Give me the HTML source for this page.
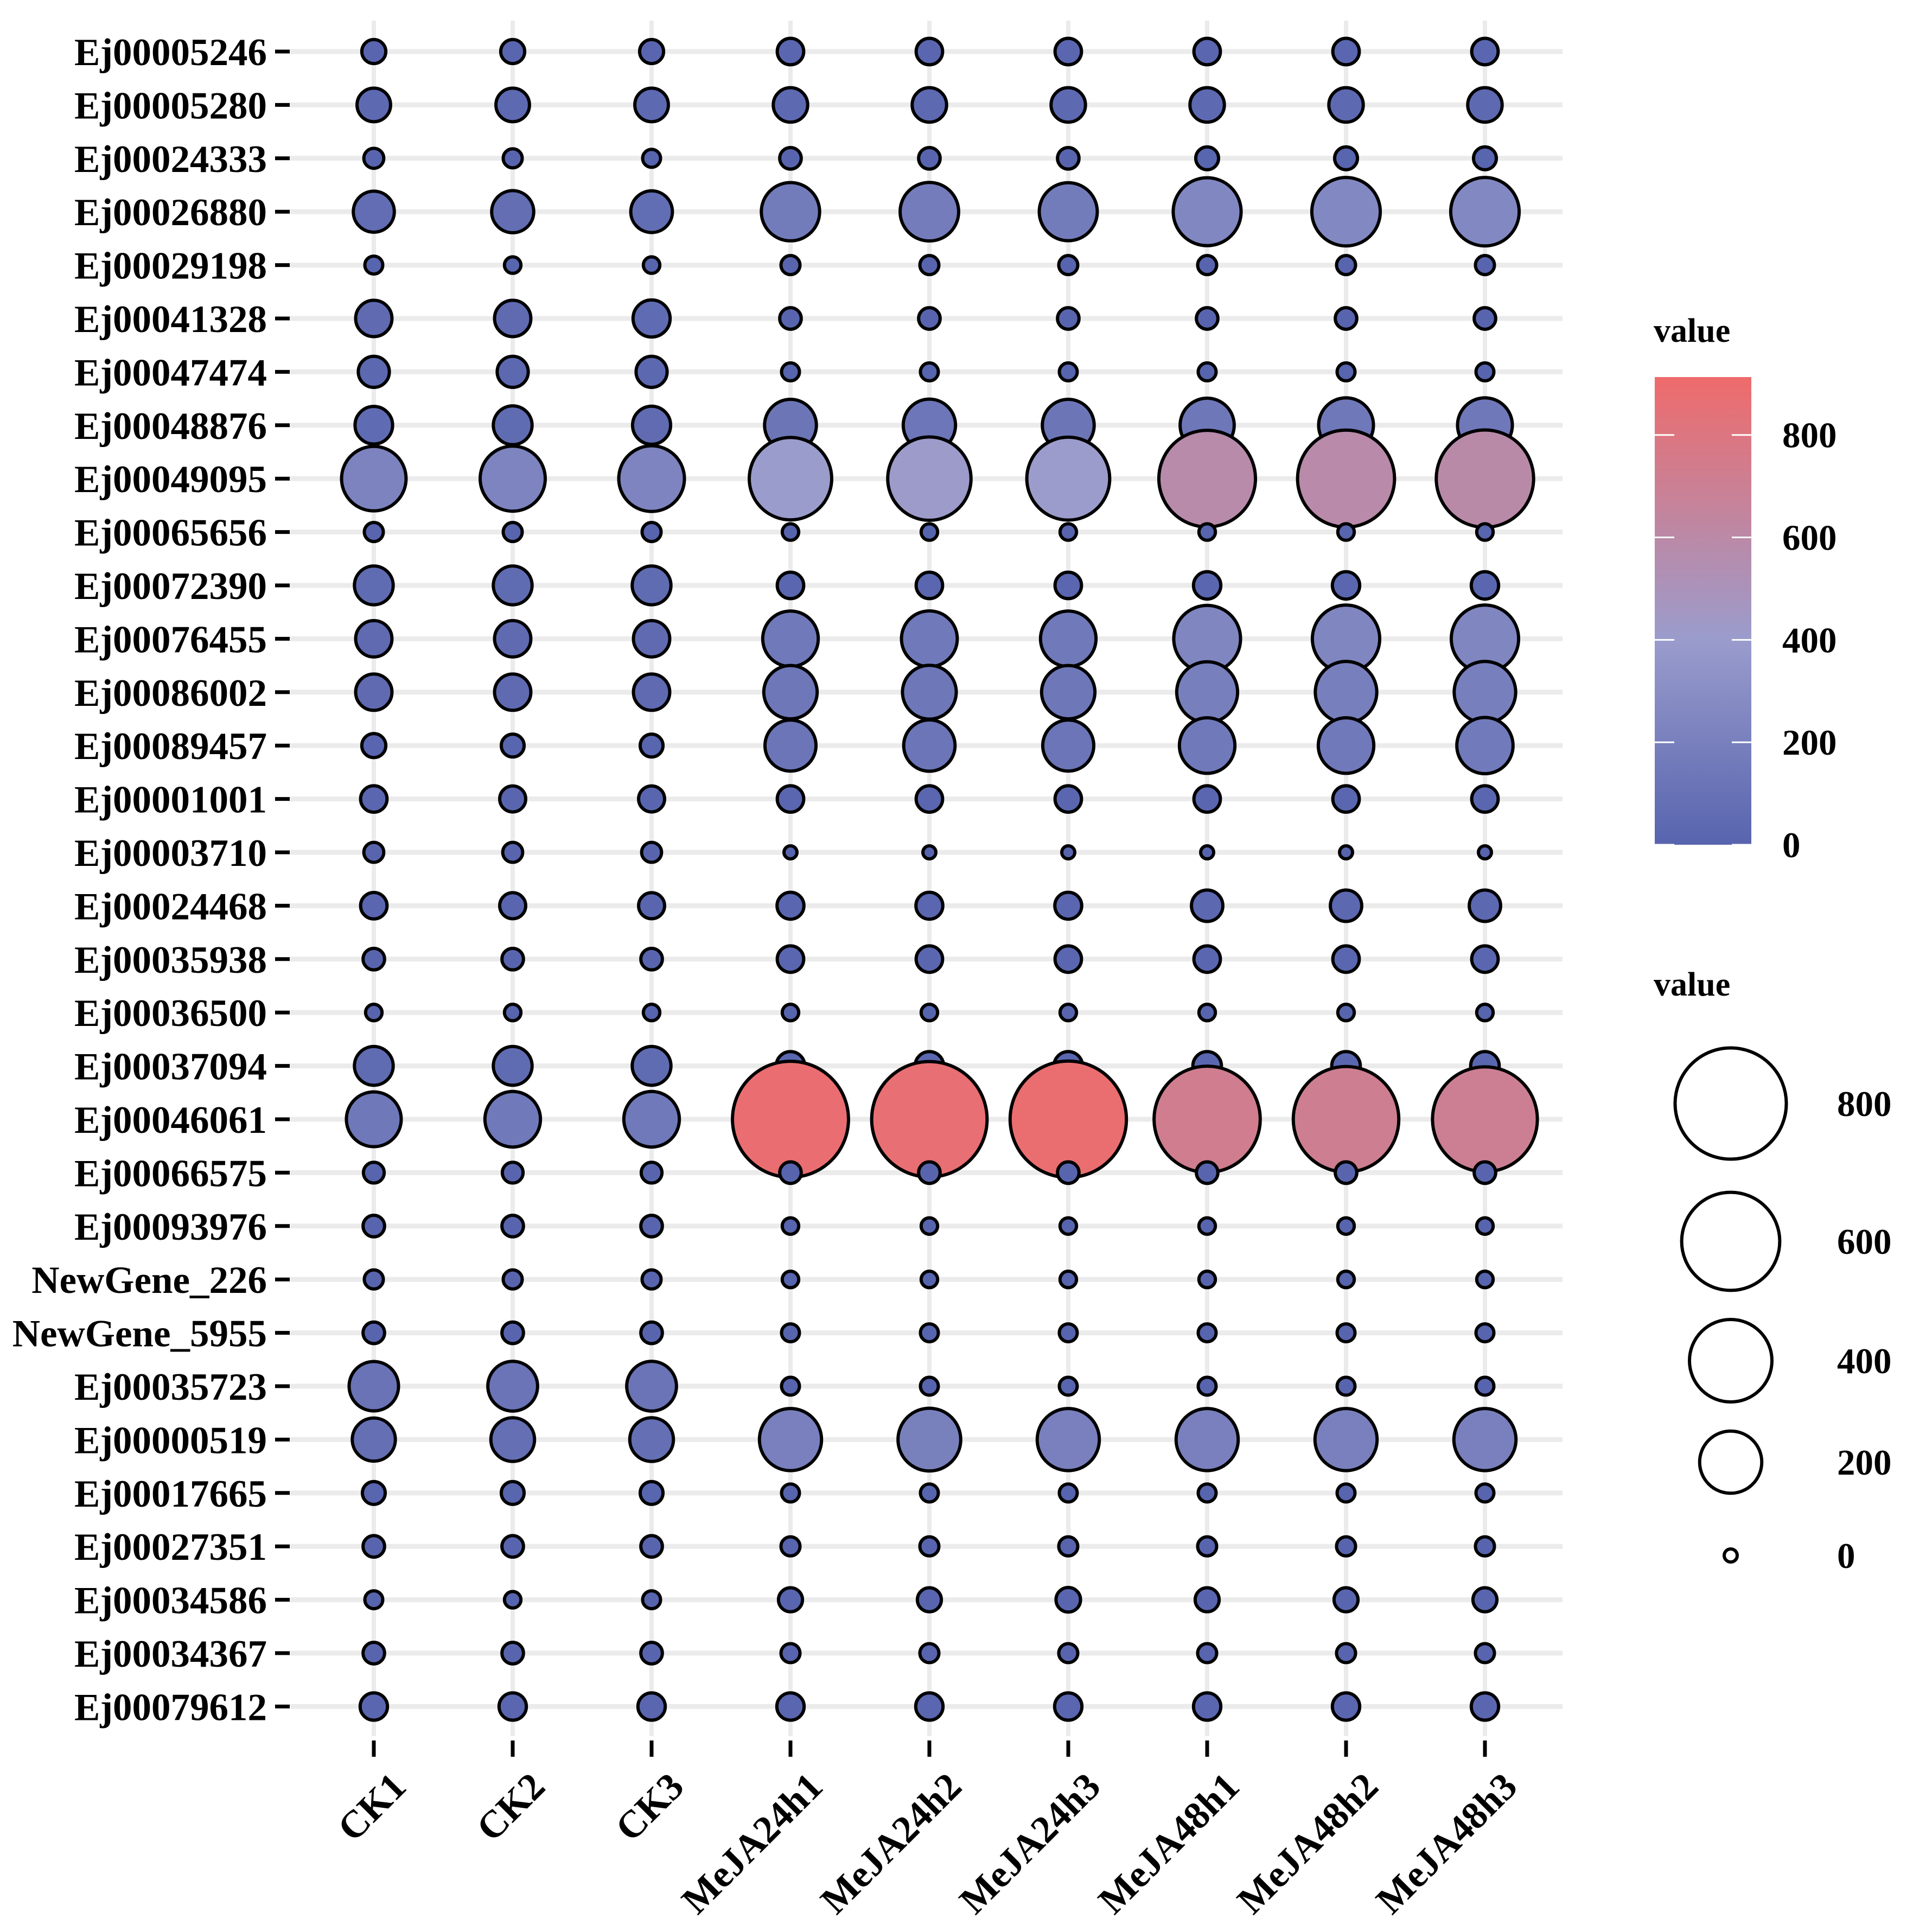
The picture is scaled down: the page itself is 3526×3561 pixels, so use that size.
<!DOCTYPE html>
<html><head><meta charset="utf-8"><style>
html,body{margin:0;padding:0;background:#fff;}
svg{display:block;font-family:"Liberation Serif",serif;font-weight:bold;}
</style></head><body>
<svg id="chart" width="3526" height="3561" viewBox="0 0 3526 3561" xmlns="http://www.w3.org/2000/svg">
<defs>
<linearGradient id="cbar" x1="0" y1="1" x2="0" y2="0">
<stop offset="0" stop-color="#5764ae"/>
<stop offset="0.44" stop-color="#9a9ccc"/>
<stop offset="1" stop-color="#ef6b6b"/>
</linearGradient>
</defs>
<g id="grid"></g>
<g id="marks"></g>
<g id="axes"></g>
<g id="legend"></g>
</svg>
<script>
const genes = ["Ej00005246","Ej00005280","Ej00024333","Ej00026880","Ej00029198","Ej00041328","Ej00047474","Ej00048876","Ej00049095","Ej00065656","Ej00072390","Ej00076455","Ej00086002","Ej00089457","Ej00001001","Ej00003710","Ej00024468","Ej00035938","Ej00036500","Ej00037094","Ej00046061","Ej00066575","Ej00093976","NewGene_226","NewGene_5955","Ej00035723","Ej00000519","Ej00017665","Ej00027351","Ej00034586","Ej00034367","Ej00079612"];
const samples = ["CK1","CK2","CK3","MeJA24h1","MeJA24h2","MeJA24h3","MeJA48h1","MeJA48h2","MeJA48h3"];
const valCK = [10,35,4,65,2,45,27,50,220,3,55,45,45,10,15,4,15,6,1,55,145,5,6,3,6,110,75,8,6,2,6,17];
const valCK2 = [10,35,3,70,1,45,27,55,225,3,55,45,45,8,14,4,14,6,1,55,150,5,6,3,6,112,78,8,6,1,6,17];
const valCK3 = [10,35,2,68,1,48,27,52,230,3,55,45,45,8,14,4,14,6,1,55,150,5,6,3,6,112,78,8,6,2,6,17];
const val24h1 = [15,38,6,170,3,6,2,125,400,1,15,150,135,120,15,0,16,15,1,20,880,6,1,1,2,2,200,2,3,10,3,17];
const val24h2 = [15,38,6,172,3,6,2,128,410,1,15,152,138,122,15,0,16,15,1,20,870,6,1,1,2,2,205,2,3,10,3,17];
const val24h3 = [15,38,6,168,3,6,2,125,405,1,15,150,135,120,15,0,16,15,1,20,885,6,1,1,2,2,200,2,3,11,3,17];
const val48h1 = [15,38,8,250,3,6,2,140,580,1,17,240,190,150,15,0,28,15,1,20,720,6,1,1,2,2,200,2,3,10,3,17];
const val48h2 = [15,38,8,255,3,6,2,145,585,1,17,245,195,150,15,0,28,15,1,20,710,6,1,1,2,2,200,2,3,10,3,17];
const val48h3 = [15,38,8,255,3,6,2,145,590,1,17,245,195,155,15,0,28,15,1,20,700,6,1,1,2,2,200,2,3,10,3,17];
const colorTicks = [0,200,400,600,800];
const sizeTicks = [800,600,400,200,0];

const NS="http://www.w3.org/2000/svg";
const series=[valCK,valCK2,valCK3,val24h1,val24h2,val24h3,val48h1,val48h2,val48h3];
const X0=689, DX=256, Y0=95, DY=98.4;
const xPos=i=>X0+i*DX, yPos=j=>Y0+j*DY;
const rad=v=>(30+6.4*Math.sqrt(Math.max(v,0)))/2-3;
const CMAX=913, cTop=695, cBot=1557;
function col(v){
  const stops=[[0,[87,100,174]],[400,[154,156,204]],[CMAX,[239,107,107]]];
  v=Math.max(0,Math.min(CMAX,v));
  let a=stops[0],b=stops[1]; if(v>400){a=stops[1];b=stops[2];}
  const t=(v-a[0])/(b[0]-a[0]);
  const c=a[1].map((x,k)=>Math.round(x+(b[1][k]-x)*t));
  return `rgb(${c[0]},${c[1]},${c[2]})`;
}
function mk(tag,attrs,parent){const e=document.createElementNS(NS,tag);for(const k in attrs)e.setAttribute(k,attrs[k]);parent.appendChild(e);return e;}
const grid=document.getElementById('grid'),marks=document.getElementById('marks'),axes=document.getElementById('axes'),legend=document.getElementById('legend');

genes.forEach((g,j)=>{
  const l=mk('line',{x1:534,x2:2880,y1:yPos(j),y2:yPos(j),stroke:'#ebebeb','stroke-width':9},grid);
  
  
});
samples.forEach((s,i)=>{
  const l=mk('line',{x1:xPos(i),x2:xPos(i),y1:38,y2:3200,stroke:'#ebebeb','stroke-width':8},grid);
  
  
});
genes.forEach((g,j)=>{
  series.forEach((arr,i)=>{
    const v=arr[j];
    const c=mk('circle',{cx:xPos(i),cy:yPos(j),r:rad(v),fill:col(v),stroke:'#000','stroke-width':6},marks);
    
    
  });
});
genes.forEach((g,j)=>{
  const t=mk('line',{x1:507,x2:534,y1:yPos(j),y2:yPos(j),stroke:'#000','stroke-width':7},axes);
  
  
  const tx=mk('text',{x:492,y:yPos(j)+25,'text-anchor':'end','font-size':71},axes);
  tx.textContent=g;
  
  
});
samples.forEach((s,i)=>{
  const t=mk('line',{x1:xPos(i),x2:xPos(i),y1:3208,y2:3238,stroke:'#000','stroke-width':7},axes);
  
  
  const ax=xPos(i)+28, ay=3262;
  const tx=mk('text',{x:ax,y:ay,'text-anchor':'end','dominant-baseline':'hanging','font-size':71,transform:`rotate(-45 ${ax} ${ay})`},axes);
  tx.textContent=s;
  
  
});
let t1=mk('text',{x:3048,y:630,'font-size':62},legend);t1.textContent='value';


let cb=mk('rect',{x:3050,y:cTop,width:178,height:cBot-cTop,fill:'url(#cbar)'},legend);


const cy=v=>cBot-(v/CMAX)*(cBot-cTop);
colorTicks.forEach(v=>{
  const y=cy(v);
  mk('line',{x1:3050,x2:3086,y1:y,y2:y,stroke:'#fff','stroke-width':3},legend);
  mk('line',{x1:3192,x2:3228,y1:y,y2:y,stroke:'#fff','stroke-width':3},legend);
  const tx=mk('text',{x:3285,y:y+23,'font-size':67},legend);
  tx.textContent=v;
  
  
});
let t2=mk('text',{x:3048,y:1835,'font-size':62},legend);t2.textContent='value';


const sizeY=[2034,2288,2508,2695,2867];
sizeTicks.forEach((v,k)=>{
  const c=mk('circle',{cx:3190,cy:sizeY[k],r:rad(v),fill:'#fff',stroke:'#000','stroke-width':6},legend);
  
  
  const tx=mk('text',{x:3386,y:sizeY[k]+23,'font-size':67},legend);
  tx.textContent=v;
  
  
});
</script>
</body></html>
